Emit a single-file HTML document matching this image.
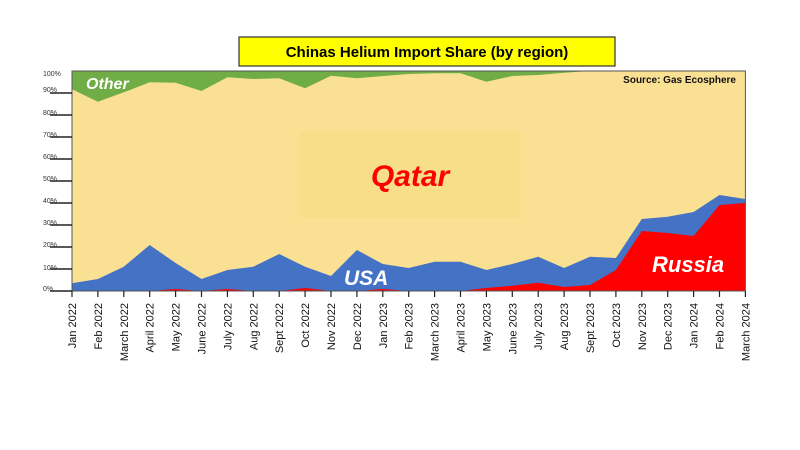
<!DOCTYPE html>
<html><head><meta charset="utf-8"><style>
html,body{margin:0;padding:0;background:#fff;width:800px;height:450px;overflow:hidden}
svg{display:block}
text{font-family:"Liberation Sans",Arial,sans-serif}
</style></head><body>
<svg width="800" height="450" viewBox="0 0 800 450">
<rect x="239" y="37" width="376" height="29" fill="#ffff00" stroke="#333" stroke-width="1.2"/>
<text x="427" y="57" font-size="15" font-weight="bold" text-anchor="middle" fill="#000">Chinas Helium Import Share (by region)</text>
<rect x="72" y="71" width="673.4" height="220" fill="#fae093"/>
<rect x="300" y="132" width="220" height="86" fill="#f6dd86" opacity="0.8"/>
<polygon fill="#70ad47" points="72,71 745.4,71 745.4,71 590,71 564.1,72.7 538.2,75 512.3,76 486.4,81.7 460.5,73.3 434.6,73.3 408.7,74 382.8,76 356.9,78.3 331,75.7 305.1,88.3 279.2,78.3 253.3,79 227.4,77.3 201.5,91 175.6,82.7 149.7,82.3 123.8,92.3 97.9,101.7 72,89.3"/>
<polygon fill="#4472c4" points="72,283.3 97.9,279 123.8,266.7 149.7,245 175.6,263 201.5,279 227.4,270 253.3,266.7 279.2,254 305.1,266.7 331,276 356.9,250 382.8,264 408.7,268 434.6,261.7 460.5,261.7 486.4,270 512.3,264 538.2,256.7 564.1,268 590,256.7 615.9,258 641.8,219 667.7,216.7 693.6,212 719.5,195 745.4,199 745.4,291 72,291"/>
<polygon fill="#ff0000" points="72,291 149.7,291 175.6,289 201.5,291 227.4,289 253.3,291 279.2,291 305.1,288 331,291 356.9,291 382.8,289 408.7,291 460.5,291 486.4,288 512.3,285.7 538.2,282.7 564.1,287 590,285 615.9,270 641.8,231 667.7,233 693.6,236 719.5,205 745.4,203 745.4,291"/>
<rect x="72" y="71" width="673.4" height="220" fill="none" stroke="#555" stroke-width="1"/>
<g stroke="#222" stroke-width="1.5">
<line x1="50" y1="291" x2="72" y2="291"/><line x1="50" y1="269" x2="72" y2="269"/><line x1="50" y1="247" x2="72" y2="247"/><line x1="50" y1="225" x2="72" y2="225"/><line x1="50" y1="203" x2="72" y2="203"/><line x1="50" y1="181" x2="72" y2="181"/><line x1="50" y1="159" x2="72" y2="159"/><line x1="50" y1="137" x2="72" y2="137"/><line x1="50" y1="115" x2="72" y2="115"/><line x1="50" y1="93" x2="72" y2="93"/>
</g>
<g font-size="7" fill="#333">
<text x="43" y="291">0%</text><text x="43" y="270">10%</text><text x="43" y="247">20%</text><text x="43" y="225">30%</text><text x="43" y="203">40%</text><text x="43" y="181">50%</text><text x="43" y="159">60%</text><text x="43" y="137">70%</text><text x="43" y="115">80%</text><text x="43" y="92">90%</text><text x="43" y="76">100%</text>
</g>
<g stroke="#222" stroke-width="1.2">
<line x1="72" y1="291" x2="72" y2="297"/><line x1="97.9" y1="291" x2="97.9" y2="297"/><line x1="123.8" y1="291" x2="123.8" y2="297"/><line x1="149.7" y1="291" x2="149.7" y2="297"/><line x1="175.6" y1="291" x2="175.6" y2="297"/><line x1="201.5" y1="291" x2="201.5" y2="297"/><line x1="227.4" y1="291" x2="227.4" y2="297"/><line x1="253.3" y1="291" x2="253.3" y2="297"/><line x1="279.2" y1="291" x2="279.2" y2="297"/><line x1="305.1" y1="291" x2="305.1" y2="297"/><line x1="331" y1="291" x2="331" y2="297"/><line x1="356.9" y1="291" x2="356.9" y2="297"/><line x1="382.8" y1="291" x2="382.8" y2="297"/><line x1="408.7" y1="291" x2="408.7" y2="297"/><line x1="434.6" y1="291" x2="434.6" y2="297"/><line x1="460.5" y1="291" x2="460.5" y2="297"/><line x1="486.4" y1="291" x2="486.4" y2="297"/><line x1="512.3" y1="291" x2="512.3" y2="297"/><line x1="538.2" y1="291" x2="538.2" y2="297"/><line x1="564.1" y1="291" x2="564.1" y2="297"/><line x1="590" y1="291" x2="590" y2="297"/><line x1="615.9" y1="291" x2="615.9" y2="297"/><line x1="641.8" y1="291" x2="641.8" y2="297"/><line x1="667.7" y1="291" x2="667.7" y2="297"/><line x1="693.6" y1="291" x2="693.6" y2="297"/><line x1="719.5" y1="291" x2="719.5" y2="297"/><line x1="745.4" y1="291" x2="745.4" y2="297"/>
</g>
<g font-size="11" fill="#111" text-anchor="end">
<text transform="translate(76,303) rotate(-90)">Jan 2022</text>
<text transform="translate(101.9,303) rotate(-90)">Feb 2022</text>
<text transform="translate(127.8,303) rotate(-90)">March 2022</text>
<text transform="translate(153.7,303) rotate(-90)">April 2022</text>
<text transform="translate(179.6,303) rotate(-90)">May 2022</text>
<text transform="translate(205.5,303) rotate(-90)">June 2022</text>
<text transform="translate(231.4,303) rotate(-90)">July 2022</text>
<text transform="translate(257.3,303) rotate(-90)">Aug 2022</text>
<text transform="translate(283.2,303) rotate(-90)">Sept 2022</text>
<text transform="translate(309.1,303) rotate(-90)">Oct 2022</text>
<text transform="translate(335,303) rotate(-90)">Nov 2022</text>
<text transform="translate(360.9,303) rotate(-90)">Dec 2022</text>
<text transform="translate(386.8,303) rotate(-90)">Jan 2023</text>
<text transform="translate(412.7,303) rotate(-90)">Feb 2023</text>
<text transform="translate(438.6,303) rotate(-90)">March 2023</text>
<text transform="translate(464.5,303) rotate(-90)">April 2023</text>
<text transform="translate(490.4,303) rotate(-90)">May 2023</text>
<text transform="translate(516.3,303) rotate(-90)">June 2023</text>
<text transform="translate(542.2,303) rotate(-90)">July 2023</text>
<text transform="translate(568.1,303) rotate(-90)">Aug 2023</text>
<text transform="translate(594,303) rotate(-90)">Sept 2023</text>
<text transform="translate(619.9,303) rotate(-90)">Oct 2023</text>
<text transform="translate(645.8,303) rotate(-90)">Nov 2023</text>
<text transform="translate(671.7,303) rotate(-90)">Dec 2023</text>
<text transform="translate(697.6,303) rotate(-90)">Jan 2024</text>
<text transform="translate(723.5,303) rotate(-90)">Feb 2024</text>
<text transform="translate(749.4,303) rotate(-90)">March 2024</text>
</g>
<text x="86" y="89" font-size="16" font-weight="bold" font-style="italic" fill="#fff">Other</text>
<text x="410" y="186" font-size="30" font-weight="bold" font-style="italic" fill="#ff0000" text-anchor="middle">Qatar</text>
<text x="344" y="285" font-size="21" font-weight="bold" font-style="italic" fill="#fff">USA</text>
<text x="652" y="272" font-size="22" font-weight="bold" font-style="italic" fill="#fff">Russia</text>
<text x="736" y="83" font-size="10" font-weight="bold" fill="#111" text-anchor="end">Source: Gas Ecosphere</text>
</svg>
</body></html>
